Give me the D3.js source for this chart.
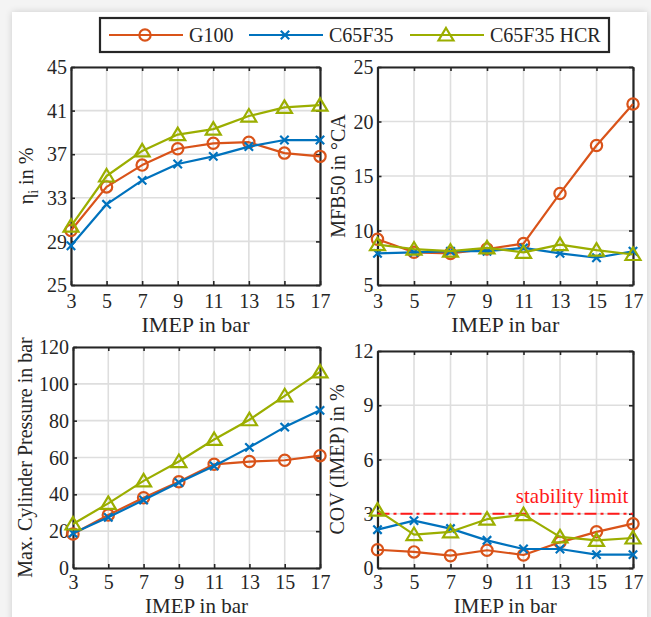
<!DOCTYPE html>
<html>
<head>
<meta charset="utf-8">
<script src="https://cdn.jsdelivr.net/npm/d3@7"></script>
<style>
  html, body { margin: 0; padding: 0; background: #f4f4f4; overflow: hidden; }
  #card { position: absolute; left: 12px; top: 12px; width: 635px; height: 620px; background: #fff;
          box-shadow: 0 0 7px rgba(0,0,0,0.16); }
  svg { position: absolute; left: 0; top: 0; }
  svg text { font-family: "Liberation Serif", "DejaVu Serif", serif !important; fill: #262626; }
</style>
</head>
<body>
<div id="card"></div>
<svg id="chart" width="651" height="617"></svg>
<script>
// ---------------- data ----------------
const imep = [3, 5, 7, 9, 11, 13, 15, 17];
const seriesNames = ["G100", "C65F35", "C65F35 HCR"];
const seriesColors = ["#D95319", "#0072BD", "#9BAE00"];
const seriesMarkers = ["circle", "cross", "triangle"];

const etaG100   = [30.0, 34.0, 36.0, 37.5, 38.0, 38.1, 37.1, 36.8];
const etaC65    = [28.6, 32.4, 34.6, 36.1, 36.8, 37.7, 38.3, 38.3];
const etaHCR    = [30.4, 35.0, 37.3, 38.8, 39.3, 40.5, 41.3, 41.5];

const mfbG100   = [9.2, 8.0, 7.9, 8.3, 8.8, 13.4, 17.8, 21.6];
const mfbC65    = [7.9, 8.0, 8.1, 8.1, 8.4, 7.9, 7.5, 8.1];
const mfbHCR    = [8.7, 8.3, 8.1, 8.4, 8.0, 8.7, 8.2, 7.8];

const pmaxG100  = [18.5, 28.8, 38.1, 46.8, 56.3, 57.8, 58.5, 61.0];
const pmaxC65   = [18.9, 27.5, 36.9, 46.4, 55.4, 65.5, 76.5, 85.6];
const pmaxHCR   = [23.9, 35.1, 47.3, 57.8, 69.8, 80.5, 93.5, 106.5];

const covG100   = [1.01, 0.89, 0.68, 0.98, 0.72, 1.42, 2.0, 2.45];
const covC65    = [2.12, 2.62, 2.18, 1.53, 1.05, 1.05, 0.74, 0.74];
const covHCR    = [3.2, 1.85, 2.0, 2.7, 2.95, 1.72, 1.53, 1.66];

const xTicks     = [3, 5, 7, 9, 11, 13, 15, 17];
const etaTicks   = [25, 29, 33, 37, 41, 45];
const mfbTicks   = [5, 10, 15, 20, 25];
const pmaxTicks  = [0, 20, 40, 60, 80, 100, 120];
const covTicks   = [0, 3, 6, 9, 12];
const stabilityLimit = 3;
const xLabel = "IMEP in bar";

// ---------------- drawing ----------------
const svg = d3.select("#chart");
const AX = "#262626";
const SERIF = "'Liberation Serif', 'DejaVu Serif', serif";

function markerPath(kind) {
  if (kind === "circle") return d3.symbol(d3.symbolCircle, 100)();
  if (kind === "cross") return "M-4.2,-4.2L4.2,4.2M-4.2,4.2L4.2,-4.2";
  return "M0,-7L7.5,5.5L-7.5,5.5Z";
}

function drawPanel(cfg) {
  const g = svg.append("g");
  const x = d3.scaleLinear().domain([3, 17]).range([cfg.x0, cfg.x1]);
  const y = d3.scaleLinear().domain([cfg.yTicks[0], cfg.yTicks[cfg.yTicks.length - 1]]).range([cfg.y1, cfg.y0]);

  // grid
  g.append("g").selectAll("line").data(xTicks).join("line")
    .attr("x1", d => x(d)).attr("x2", d => x(d)).attr("y1", cfg.y0).attr("y2", cfg.y1)
    .attr("stroke", "#dedede").attr("stroke-width", 1.6);
  g.append("g").selectAll("line").data(cfg.yTicks).join("line")
    .attr("y1", d => y(d)).attr("y2", d => y(d)).attr("x1", cfg.x0).attr("x2", cfg.x1)
    .attr("stroke", "#dedede").attr("stroke-width", 1.6);

  // axes (inward ticks)
  const bottom = g.append("g").attr("transform", `translate(0,${cfg.y1})`)
    .call(d3.axisBottom(x).tickValues(xTicks).tickSize(-4).tickSizeOuter(0).tickPadding(0).tickFormat(d3.format("d")));
  const top = g.append("g").attr("transform", `translate(0,${cfg.y0})`)
    .call(d3.axisTop(x).tickValues(xTicks).tickSize(-4).tickSizeOuter(0).tickFormat(""));
  const left = g.append("g").attr("transform", `translate(${cfg.x0},0)`)
    .call(d3.axisLeft(y).tickValues(cfg.yTicks).tickSize(-4).tickSizeOuter(0).tickPadding(0).tickFormat(d3.format("d")));
  const right = g.append("g").attr("transform", `translate(${cfg.x1},0)`)
    .call(d3.axisRight(y).tickValues(cfg.yTicks).tickSize(-4).tickSizeOuter(0).tickFormat(""));
  [bottom, top, left, right].forEach(a => {
    a.attr("font-family", SERIF).attr("font-size", 20);
    a.select(".domain").attr("stroke", AX).attr("stroke-width", 2.2);
    a.selectAll(".tick line").attr("stroke", AX).attr("stroke-width", 1.6);
    a.selectAll("text").style("font-family", SERIF).style("font-size", "20px").attr("fill", AX);
  });
  bottom.selectAll(".tick text").attr("y", cfg.tickOff).attr("dy", null);
  left.selectAll(".tick text").attr("x", -4).attr("dy", "0.33em");

  // x label
  g.append("text").attr("x", (cfg.x0 + cfg.x1) / 2).attr("y", cfg.y1 + cfg.xlOff)
    .attr("text-anchor", "middle").style("font-family", SERIF).style("font-size", cfg.xlSize + "px").text(xLabel);

  // y label
  const yl = g.append("text")
    .attr("transform", `translate(${cfg.ylx},${(cfg.y0 + cfg.y1) / 2}) rotate(-90)`)
    .attr("text-anchor", "middle").style("font-family", SERIF).style("font-size", "20px");
  cfg.ylabel(yl);

  // extra (stability limit)
  if (cfg.extra) cfg.extra(g, x, y);

  // series
  cfg.series.forEach((vals, i) => {
    const pts = imep.map((v, j) => [x(v), y(vals[j])]);
    g.append("path").attr("d", d3.line()(pts)).attr("fill", "none")
      .attr("stroke", seriesColors[i]).attr("stroke-width", 2.2).attr("stroke-linejoin", "round");
    g.append("g").selectAll("path").data(pts).join("path")
      .attr("transform", d => `translate(${d[0]},${d[1]})`)
      .attr("d", markerPath(seriesMarkers[i]))
      .attr("fill", "none").attr("stroke", seriesColors[i]).attr("stroke-width", 2.2);
  });
}

drawPanel({
  x0: 71, x1: 320, y0: 67, y1: 285, yTicks: etaTicks, ylx: 33, xlOff: 47, tickOff: 23, xlSize: 22,
  series: [etaG100, etaC65, etaHCR],
  ylabel: t => {
    t.append("tspan").text("η");
    t.append("tspan").style("font-size", "14px").attr("dy", 5).text("i");
    t.append("tspan").attr("dy", -5).text(" in %");
  }
});
drawPanel({
  x0: 377.5, x1: 633, y0: 67, y1: 285, yTicks: mfbTicks, ylx: 345, xlOff: 47, tickOff: 23, xlSize: 22,
  series: [mfbG100, mfbC65, mfbHCR],
  ylabel: t => t.text("MFB50 in °CA")
});
drawPanel({
  x0: 73, x1: 320, y0: 347, y1: 568, yTicks: pmaxTicks, ylx: 32, xlOff: 44.5, tickOff: 21, xlSize: 21,
  series: [pmaxG100, pmaxC65, pmaxHCR],
  ylabel: t => t.text("Max. Cylinder Pressure in bar")
});
drawPanel({
  x0: 377.5, x1: 633, y0: 351, y1: 568, yTicks: covTicks, ylx: 344, xlOff: 44.5, tickOff: 21, xlSize: 21,
  series: [covG100, covC65, covHCR],
  ylabel: t => t.text("COV (IMEP) in %"),
  extra: (g, x, y) => {
    g.append("line").attr("x1", x(3)).attr("x2", x(17))
      .attr("y1", y(stabilityLimit)).attr("y2", y(stabilityLimit))
      .attr("stroke", "#FF1A1A").attr("stroke-width", 2.2).attr("stroke-dasharray", "12,4,3,4");
    g.append("text").attr("x", x(16.75)).attr("y", y(stabilityLimit) - 11)
      .attr("text-anchor", "end").style("font-family", SERIF).style("font-size", "21px")
      .style("fill", "#FF1A1A").text("stability limit");
  }
});

// legend
const leg = svg.append("g");
leg.append("rect").attr("x", 100).attr("y", 18).attr("width", 509).attr("height", 34)
  .attr("fill", "#fff").attr("stroke", AX).attr("stroke-width", 2.2);
const legX = [109, 249, 410];
seriesNames.forEach((name, i) => {
  const lx = legX[i];
  leg.append("line").attr("x1", lx).attr("x2", lx + 74).attr("y1", 35).attr("y2", 35)
    .attr("stroke", seriesColors[i]).attr("stroke-width", 2.2);
  leg.append("path").attr("transform", `translate(${lx + 36},35)`).attr("d", markerPath(seriesMarkers[i]))
    .attr("fill", "none").attr("stroke", seriesColors[i]).attr("stroke-width", 2.2);
  leg.append("text").attr("x", lx + 80).attr("y", 42).style("font-family", SERIF).style("font-size", "20px").text(name);
});
</script>
</body>
</html>
